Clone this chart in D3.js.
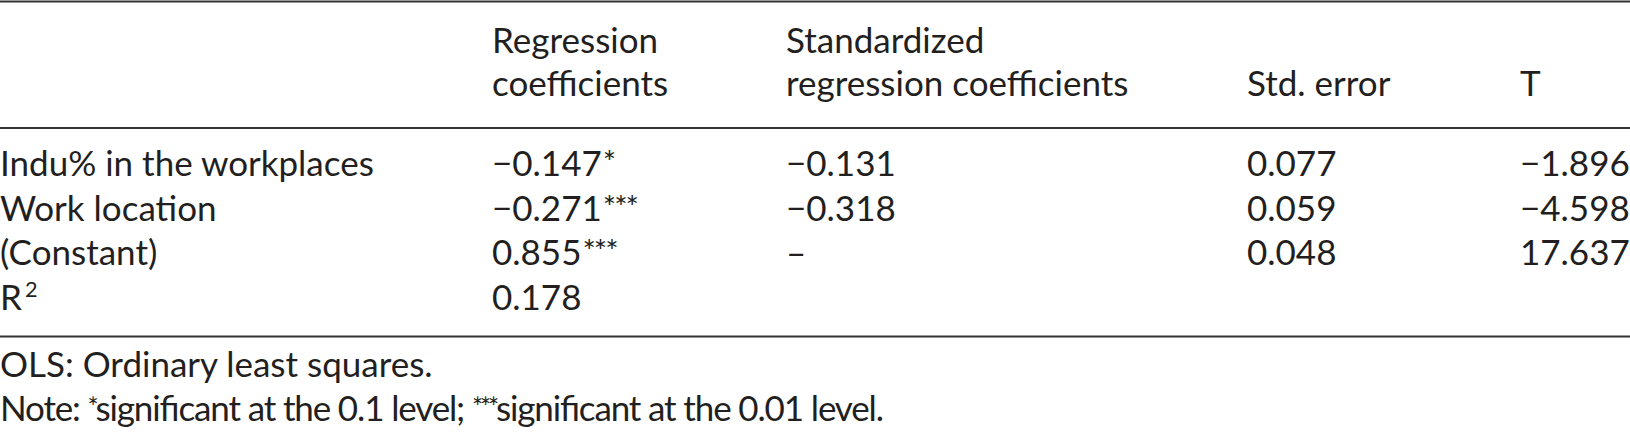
<!DOCTYPE html>
<html>
<head>
<meta charset="utf-8">
<script src="https://cdn.jsdelivr.net/npm/d3@7"></script>
<style>
  html, body { margin: 0; padding: 0; background: #fff; }
  svg { display: block; }
  text { font-family: Lato, "Open Sans", sans-serif; fill: #231f20; }
</style>
</head>
<body>
<svg id="chart" width="1630" height="434"></svg>
<script>
// ---- data ----
const headerLine1 = ["", "Regression", "Standardized", "", ""];
const headerLine2 = ["", "coefficients", "regression coefficients", "Std. error", "T"];
const rowLabels = ["Indu% in the workplaces", "Work location", "(Constant)", "R"];
const rowLabelSup = ["", "", "", "2"];
const coefValues = ["\u22120.147", "\u22120.271", "0.855", "0.178"];
const coefStars = ["*", "***", "***", ""];
const stdCoefValues = ["\u22120.131", "\u22120.318", "\u2013", ""];
const stdErrValues = ["0.077", "0.059", "0.048", ""];
const tValues = ["\u22121.896", "\u22124.598", "17.637", ""];
const notes = [
  [{t: "OLS: Ordinary least squares."}],
  [{t: "Note: "}, {t: "*", sup: true}, {t: "significant at the 0.1 level; "}, {t: "***", sup: true}, {t: "significant at the 0.01 level."}]
];

// ---- layout ----
const W = 1630, H = 434;
const fontSize = 35;
const svg = d3.select("#chart");

const colKeys = d3.range(5);
const x = d3.scaleOrdinal().domain(colKeys).range([0, 492, 786, 1247, 1520]);
const y = d3.scalePoint().domain(d3.range(rowLabels.length)).range([176, 310]);
const noteY = d3.scalePoint().domain(d3.range(notes.length)).range([377, 421]);

// rules
const rules = [{y: 1.5, w: 1.8}, {y: 128, w: 1.8}, {y: 336.5, w: 1.8}];
svg.selectAll("line.rule").data(rules).join("line")
  .attr("class", "rule")
  .attr("x1", 0).attr("x2", W)
  .attr("y1", d => d.y).attr("y2", d => d.y)
  .attr("stroke", "#333").attr("stroke-width", d => d.w);

// header
const hdr = svg.append("g").attr("font-size", fontSize);
hdr.selectAll("text.h1").data(headerLine1).join("text")
  .attr("class", "h1").attr("x", (d, i) => x(i)).attr("y", 53).text(d => d);
hdr.selectAll("text.h2").data(headerLine2).join("text")
  .attr("class", "h2").attr("x", (d, i) => x(i)).attr("y", 96).text(d => d);

// body
const body = svg.append("g").attr("font-size", fontSize);
const rows = body.selectAll("g.row").data(rowLabels).join("g")
  .attr("class", "row").attr("transform", (d, i) => `translate(0,${y(i)})`);

rows.append("text").attr("x", x(0))
  .each(function(d, i) {
    const t = d3.select(this);
    t.append("tspan").text(d);
    if (rowLabelSup[i]) t.append("tspan").attr("font-size", fontSize * 0.62).attr("dy", -13).attr("dx", 3).text(rowLabelSup[i]);
  });

rows.append("text").attr("x", x(1))
  .each(function(d, i) {
    const t = d3.select(this);
    t.append("tspan").text(coefValues[i]);
    if (coefStars[i]) t.append("tspan").attr("font-size", fontSize * 0.9).attr("dy", -3).attr("dx", 1).attr("letter-spacing", -2).text(coefStars[i]);
  });

rows.append("text").attr("x", x(2)).text((d, i) => stdCoefValues[i]);
rows.append("text").attr("x", x(3)).text((d, i) => stdErrValues[i]);
rows.append("text").attr("x", x(4)).text((d, i) => tValues[i]);

// notes
const nt = svg.append("g").attr("font-size", fontSize);
nt.selectAll("text").data(notes).join("text")
  .attr("x", 0).attr("y", (d, i) => noteY(i))
  .each(function(parts, i) {
    const t = d3.select(this);
    parts.forEach(p => {
      const s = t.append("tspan").text(p.t);
      if (p.sup) s.attr("font-size", fontSize * 0.75).attr("baseline-shift", "4").attr("letter-spacing", -2);
    });
    if (i === 1) t.attr("textLength", 884).attr("lengthAdjust", "spacing");
  });
</script>
</body>
</html>
